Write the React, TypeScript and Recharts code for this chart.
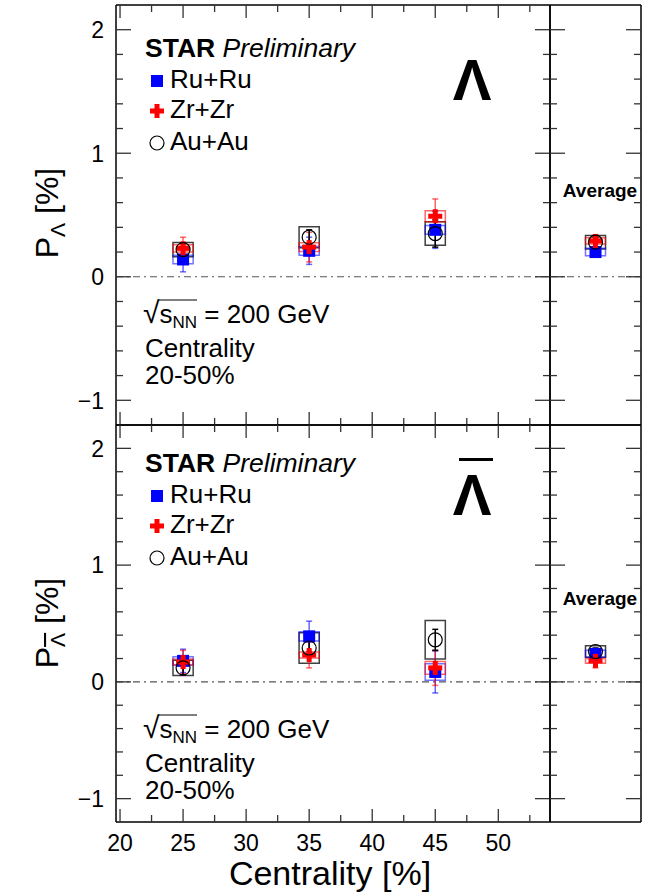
import React from "react";
import {
  ComposedChart,
  ErrorBar,
  ReferenceArea,
  ReferenceLine,
  Scatter,
  XAxis,
  YAxis,
} from "recharts";

const FONT = "'Liberation Sans', Arial, Helvetica, sans-serif";

const centrality = [25, 35, 45];
const xTicks = [20, 22.5, 25, 27.5, 30, 32.5, 35, 37.5, 40, 42.5, 45, 47.5, 50, 52.5];
const yTicks = [-1, -0.8, -0.6, -0.4, -0.2, 0, 0.2, 0.4, 0.6, 0.8, 1, 1.2, 1.4, 1.6, 1.8, 2];
const systems = ["Ru+Ru", "Zr+Zr", "Au+Au"];

// Lambda
const lamRu = [0.14, 0.21, 0.38];
const lamRuStat = [0.1, 0.11, 0.15];
const lamRuSys = [0.035, 0.035, 0.035];
const lamZr = [0.23, 0.24, 0.49];
const lamZrStat = [0.09, 0.12, 0.14];
const lamZrSys = [0.03, 0.035, 0.045];
const lamAu = [0.22, 0.32, 0.35];
const lamAuStat = [0.05, 0.06, 0.11];
const lamAuSys = [0.058, 0.085, 0.095];
// average [Ru, Zr, Au]
const lamAvg = [0.2, 0.29, 0.28];
const lamAvgStat = [0.04, 0.05, 0.04];
const lamAvgSys = [0.03, 0.025, 0.055];

// Anti-Lambda
const alamRu = [0.18, 0.39, 0.085];
const alamRuStat = [0.1, 0.13, 0.18];
const alamRuSys = [0.035, 0.04, 0.07];
const alamZr = [0.17, 0.23, 0.12];
const alamZrStat = [0.1, 0.11, 0.15];
const alamZrSys = [0.025, 0.025, 0.055];
const alamAu = [0.12, 0.29, 0.36];
const alamAuStat = [0.06, 0.07, 0.09];
const alamAuSys = [0.065, 0.13, 0.165];
const alamAvg = [0.24, 0.18, 0.26];
const alamAvgStat = [0.03, 0.06, 0.03];
const alamAvgSys = [0.03, 0.02, 0.05];

const BOX_MAIN = 0.8;
const BOX_AVG = 0.11;

const styles = [
  { marker: "square", err: "rgba(0,0,255,0.6)", box: "rgba(0,0,255,0.55)" },
  { marker: "cross", err: "rgba(255,0,0,0.6)", box: "rgba(255,0,0,0.6)" },
  { marker: "circle", err: "#000", box: "rgba(0,0,0,0.75)" },
];

function Marker({ cx, cy, kind }: { cx: number; cy: number; kind: string }) {
  if (kind === "square") return <rect x={cx - 6} y={cy - 6} width={12} height={12} fill="#0000ff" />;
  if (kind === "cross")
    return (
      <g fill="#ff0000">
        <rect x={cx - 7} y={cy - 2.5} width={14} height={5} />
        <rect x={cx - 2.5} y={cy - 7} width={5} height={14} />
      </g>
    );
  return <circle cx={cx} cy={cy} r={7} fill="none" stroke="#000" strokeWidth={1.2} />;
}

function isMajor(v: number, step: number) {
  return Math.abs(v / step - Math.round(v / step)) < 1e-6;
}

function YTick({ x, y, payload, dir, label }: any) {
  const v = payload.value;
  const major = isMajor(v, 1);
  const len = major ? 15 : 7;
  return (
    <g>
      <line x1={x} y1={y} x2={x + dir * len} y2={y} stroke="#333" strokeWidth={1.3} />
      {label && major && (
        <text x={x - 12} y={y} dy="0.36em" textAnchor="end" fontSize={23} fontFamily={FONT} fill="#000">
          {v < 0 ? "\u2212" + Math.abs(v) : v}
        </text>
      )}
    </g>
  );
}

function XTick({ x, y, payload, dir, label }: any) {
  const v = payload.value;
  const major = isMajor(v, 5);
  const len = major ? 13 : 7;
  return (
    <g>
      <line x1={x} y1={y} x2={x} y2={y + dir * len} stroke="#333" strokeWidth={1.3} />
      {label && major && (
        <text x={x} y={y + 29} textAnchor="middle" fontSize={23} fontFamily={FONT} fill="#000">
          {v}
        </text>
      )}
    </g>
  );
}

type Series = { y: number[]; stat: number[]; sys: number[] };

function rows(xs: number[], s: Series) {
  return xs.map((x, i) => ({ x, y: s.y[i], err: s.stat[i], sys: s.sys[i] }));
}

function Panel({
  top,
  height,
  mt,
  mb,
  labels,
  series,
  avg,
}: {
  top: number;
  height: number;
  mt: number;
  mb: number;
  labels: boolean;
  series: Series[];
  avg: Series;
}) {
  const mainSets = series.map((s) => rows(centrality, s));
  const avgSets = [0, 1, 2].map((k) => [
    { x: 0.5, y: avg.y[k], err: avg.stat[k], sys: avg.sys[k] },
  ]);
  const order = [2, 0, 1];

  const body = (sets: any[][], half: number) => [
    ...order.flatMap((k) =>
      sets[k].map((d: any, i: number) => (
        <ReferenceArea
          key={`box-${k}-${i}`}
          xAxisId="b"
          yAxisId="l"
          x1={d.x - half}
          x2={d.x + half}
          y1={d.y - d.sys}
          y2={d.y + d.sys}
          fill="none"
          stroke={styles[k].box}
          strokeWidth={1.5}
          ifOverflow="visible"
        />
      ))
    ),
    ...[0, 1, 2].map((k) => (
      <Scatter
        key={`sc-${k}`}
        name={systems[k]}
        data={sets[k]}
        xAxisId="b"
        yAxisId="l"
        dataKey="y"
        isAnimationActive={false}
        shape={(p: any) => <Marker cx={p.cx} cy={p.cy} kind={styles[k].marker} />}
      >
        <ErrorBar dataKey="err" direction="y" width={3} stroke={styles[k].err} strokeWidth={1.5} />
      </Scatter>
    )),
  ];

  const line = { stroke: "#000", strokeWidth: 1.5 };
  const axes = (main: boolean) => [
    <XAxis
      key="xb"
      xAxisId="b"
      type="number"
      dataKey="x"
      orientation="bottom"
      domain={main ? [19.68, 54.1] : [0, 1]}
      allowDataOverflow
      ticks={main ? xTicks : [0.5]}
      interval={0}
      height={1}
      tickSize={0}
      tickMargin={0}
      tickLine={false}
      axisLine={line}
      tick={main ? <XTick dir={-1} label={labels} /> : false}
    />,
    <XAxis
      key="xt"
      xAxisId="t"
      type="number"
      dataKey="x"
      orientation="top"
      domain={main ? [19.68, 54.1] : [0, 1]}
      allowDataOverflow
      ticks={main ? xTicks : [0.5]}
      interval={0}
      height={1}
      tickSize={0}
      tickMargin={0}
      tickLine={false}
      axisLine={line}
      tick={main ? <XTick dir={1} label={false} /> : false}
    />,
    <YAxis
      key="yl"
      yAxisId="l"
      type="number"
      dataKey="y"
      orientation="left"
      domain={[-1.2, 2.2]}
      allowDataOverflow
      ticks={yTicks}
      interval={0}
      width={1}
      tickSize={0}
      tickMargin={0}
      tickLine={false}
      axisLine={line}
      tick={<YTick dir={1} label={main} />}
    />,
    <YAxis
      key="yr"
      yAxisId="r"
      type="number"
      orientation="right"
      domain={[-1.2, 2.2]}
      allowDataOverflow
      ticks={yTicks}
      interval={0}
      width={1}
      tickSize={0}
      tickMargin={0}
      tickLine={false}
      axisLine={line}
      tick={<YTick dir={-1} label={false} />}
    />,
  ];

  const zero = (
    <ReferenceLine
      key="zero"
      xAxisId="b"
      yAxisId="l"
      y={0}
      stroke="#555"
      strokeWidth={1.2}
      strokeDasharray="7 4 2 4"
    />
  );

  return (
    <>
      <div style={{ position: "absolute", left: 0, top }}>
        <ComposedChart width={552} height={height} margin={{ top: mt - 1, bottom: mb - 1, left: 115, right: 1 }}>
          {axes(true)}
          {zero}
          {body(mainSets, BOX_MAIN)}
        </ComposedChart>
      </div>
      <div style={{ position: "absolute", left: 548, top }}>
        <ComposedChart width={96} height={height} margin={{ top: mt - 1, bottom: mb - 1, left: 1, right: 2 }}>
          {axes(false)}
          {zero}
          {body(avgSets, BOX_AVG)}
        </ComposedChart>
      </div>
    </>
  );
}

function Legend({ y0, bar }: { y0: number; bar: boolean }) {
  // y0: baseline of "STAR Preliminary"
  const rowsY = [30, 60, 92];
  return (
    <g fontFamily={FONT} fill="#000">
      <text x={145} y={y0} fontSize={26.5}>
        <tspan fontWeight="bold">STAR</tspan>
        <tspan fontStyle="italic"> Preliminary</tspan>
      </text>
      {systems.map((s, k) => (
        <g key={s}>
          <Marker cx={157} cy={y0 + rowsY[k] - 6} kind={styles[k].marker} />
          <text x={170} y={y0 + rowsY[k] + 1} fontSize={26}>
            {s}
          </text>
        </g>
      ))}
      <text x={472} y={y0 + 43} fontSize={58} fontWeight="bold" textAnchor="middle">
        Λ
      </text>
      {bar && <rect x={459} y={y0 - 14} width={34} height={3} fill="#000" />}
      <text x={143} y={y0 + 266} fontSize={26}>
        <tspan fontSize={30}>√</tspan>
        <tspan>s</tspan>
        <tspan fontSize={17} dy={5}>
          NN
        </tspan>
        <tspan dy={-5}> = 200 GeV</tspan>
      </text>
      <line x1={158} x2={197} y1={y0 + 243} y2={y0 + 243} stroke="#000" strokeWidth={1.2} />
      <text x={145} y={y0 + 300} fontSize={26}>
        Centrality
      </text>
      <text x={145} y={y0 + 327} fontSize={26}>
        20-50%
      </text>
    </g>
  );
}

export default function App() {
  const lam: Series[] = [
    { y: lamRu, stat: lamRuStat, sys: lamRuSys },
    { y: lamZr, stat: lamZrStat, sys: lamZrSys },
    { y: lamAu, stat: lamAuStat, sys: lamAuSys },
  ];
  const alam: Series[] = [
    { y: alamRu, stat: alamRuStat, sys: alamRuSys },
    { y: alamZr, stat: alamZrStat, sys: alamZrSys },
    { y: alamAu, stat: alamAuStat, sys: alamAuSys },
  ];
  return (
    <div style={{ position: "absolute", left: 0, top: 0, width: 662, height: 894, background: "#fff", overflow: "hidden" }}>
      <Panel
        top={0}
        height={430}
        mt={5}
        mb={5}
        labels={false}
        series={lam}
        avg={{ y: lamAvg, stat: lamAvgStat, sys: lamAvgSys }}
      />
      <Panel
        top={420}
        height={474}
        mt={5}
        mb={72}
        labels={true}
        series={alam}
        avg={{ y: alamAvg, stat: alamAvgStat, sys: alamAvgSys }}
      />
      <svg width={662} height={894} style={{ position: "absolute", left: 0, top: 0, pointerEvents: "none" }}>
        <Legend y0={57} bar={false} />
        <Legend y0={472} bar={true} />
        <g fontFamily={FONT} fill="#000">
          <text x={600} y={197} fontSize={19} fontWeight="bold" textAnchor="middle">
            Average
          </text>
          <text x={600} y={605} fontSize={19} fontWeight="bold" textAnchor="middle">
            Average
          </text>
          <text transform="translate(58,213) rotate(-90)" textAnchor="middle" fontSize={32}>
            P
            <tspan fontSize={21} dy={7}>
              Λ
            </tspan>
            <tspan dy={-7}> [%]</tspan>
          </text>
          <text transform="translate(58,623) rotate(-90)" textAnchor="middle" fontSize={32}>
            P
            <tspan fontSize={21} dy={7} style={{ textDecoration: "overline" }}>
              Λ
            </tspan>
            <tspan dy={-7}> [%]</tspan>
          </text>
          <text x={330} y={885} textAnchor="middle" fontSize={34}>
            Centrality [%]
          </text>
        </g>
      </svg>
    </div>
  );
}
